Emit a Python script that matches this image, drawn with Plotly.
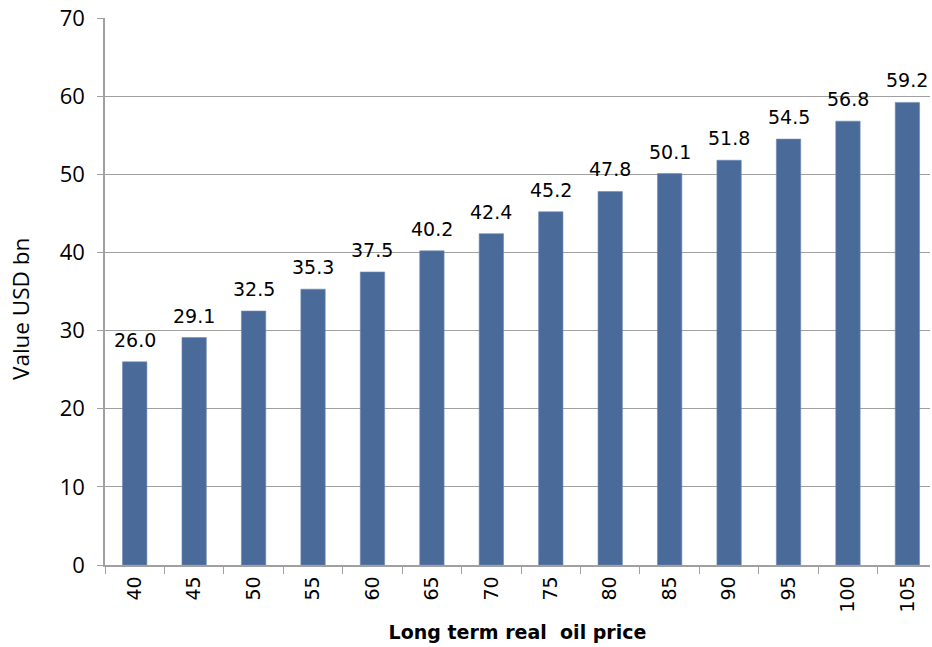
import plotly.graph_objects as go

# Long term real oil price scenarios and the resulting value (USD bn)
oil_price = ["40", "45", "50", "55", "60", "65", "70", "75", "80", "85", "90", "95", "100", "105"]
value_usd_bn = [26.0, 29.1, 32.5, 35.3, 37.5, 40.2, 42.4, 45.2, 47.8, 50.1, 51.8, 54.5, 56.8, 59.2]
y_ticks = [0, 10, 20, 30, 40, 50, 60, 70]

bar_color = "#4A6B9A"
grid_color = "#A0A0A0"

fig = go.Figure(
    go.Bar(
        x=oil_price,
        y=value_usd_bn,
        marker=dict(color=bar_color, line=dict(color="#6F8AB2", width=0.6)),
        width=0.41,
        hoverinfo="x+y",
    )
)

# value labels sitting above each bar (category axis positions by index)
for idx, val in enumerate(value_usd_bn):
    fig.add_annotation(
        x=idx,
        y=val,
        xref="x",
        yref="y",
        text=f"{val:.1f}",
        showarrow=False,
        xanchor="center",
        yanchor="bottom",
        yshift=9,
        font=dict(family="DejaVu Sans", size=19, color="#000000"),
    )

# y-axis title placed as a rotated annotation left of the tick labels
fig.add_annotation(
    xref="paper",
    yref="paper",
    x=-0.103,
    y=0.468,
    text="Value USD bn",
    textangle=-90,
    showarrow=False,
    xanchor="center",
    yanchor="middle",
    font=dict(family="Open Sans", size=22.5, color="#000000"),
)

fig.update_layout(
    width=932,
    height=647,
    margin=dict(l=105, r=2, t=18, b=82),
    paper_bgcolor="white",
    plot_bgcolor="white",
    showlegend=False,
    font=dict(family="Open Sans", color="#000000"),
)

fig.update_xaxes(
    type="category",
    range=[-0.5, 13.38],
    tickangle=-90,
    tickfont=dict(family="DejaVu Sans", size=19, color="#000000"),
    ticks="outside",
    tickson="boundaries",
    ticklen=7,
    tickcolor=grid_color,
    ticklabelstandoff=2,
    showline=True,
    linecolor=grid_color,
    linewidth=1.5,
    showgrid=False,
    title=dict(
        text="<b>Long term real  oil price</b>",
        font=dict(family="DejaVu Sans", size=19, color="#000000"),
        standoff=14,
    ),
)

fig.update_yaxes(
    range=[0, 70],
    tickvals=y_ticks,
    tickfont=dict(family="Open Sans", size=22, color="#000000"),
    ticks="outside",
    ticklen=6,
    tickcolor=grid_color,
    ticklabelstandoff=8,
    showline=True,
    linecolor=grid_color,
    linewidth=1.5,
    showgrid=True,
    gridcolor=grid_color,
    gridwidth=1,
    zeroline=False,
)

fig.write_html("out.html")
